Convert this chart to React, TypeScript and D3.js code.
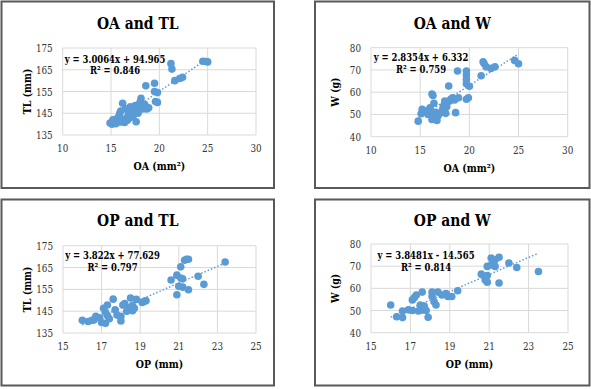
import React from 'react';
import * as d3 from 'd3';

// OA (mm²) vs TL (mm)
const oaTL: [number, number][] = [
  [14.9, 140.5], [15.1, 140], [15.3, 141], [15.5, 140.2], [15.2, 142], [15.6, 142.5],
  [15.8, 143.5], [16.0, 141], [16.2, 141.5], [16.4, 140.8], [16.5, 142.5], [16.7, 141.8],
  [16.0, 146], [15.9, 145], [16.2, 149.6], [16.5, 147], [16.8, 144], [17.0, 143],
  [17.2, 145], [17.4, 147], [17.5, 148.5], [17.6, 146], [17.6, 141.1], [17.8, 145],
  [17.9, 149], [18.0, 150], [18.1, 148], [18.1, 151.9], [18.3, 147], [18.5, 149],
  [18.7, 147], [18.9, 147.5], [17.3, 144], [16.8, 146], [17.0, 148], [18.6, 157.6],
  [19.5, 158.8], [19.5, 155], [19.8, 154.5], [19.6, 150.4], [19.8, 150], [21.2, 167.8],
  [21.3, 165.3], [21.6, 160], [22.1, 161], [22.4, 161.5], [24.5, 168.9], [24.8, 168.8],
  [25.0, 168.6],
];

// OA (mm²) vs W (g)
const oaW: [number, number][] = [
  [14.8, 47], [15.2, 52.3], [15.1, 50.3], [15.5, 51.5], [15.8, 50], [16.0, 53],
  [16.2, 50.8], [16.2, 59.2], [16.3, 58.5], [16.4, 55], [16.2, 47.7], [16.7, 47.3],
  [16.8, 49.3], [16.6, 51], [17.0, 50.5], [17.3, 52.7], [17.5, 56], [17.4, 54],
  [17.6, 50.5], [17.7, 53.5], [18.0, 56], [18.1, 56.8], [17.9, 62.8], [18.3, 57.5],
  [18.5, 56.5], [18.8, 69.5], [18.6, 50.8], [18.9, 57.5], [19.7, 69.5], [19.7, 67.7],
  [19.7, 65.8], [19.7, 63.8], [19.7, 56.8], [19.9, 57.5], [20.0, 62.7], [21.2, 67.4],
  [21.4, 73.7], [21.5, 72.9], [21.7, 71.4], [22.2, 70.7], [22.6, 71.4], [24.6, 74.3],
  [25.0, 72.8],
];

// OP (mm) vs TL (mm)
const opTL: [number, number][] = [
  [16.0, 140.8], [16.3, 140.3], [16.5, 140.8], [16.6, 141], [16.7, 142.6], [16.9, 142],
  [17.0, 139.8], [17.2, 139.5], [17.1, 146.3], [17.3, 147.8], [17.2, 144.5], [17.3, 143],
  [17.4, 141.5], [17.6, 150.5], [17.7, 145.6], [17.8, 143.2], [18.0, 142.6], [18.0, 140.5],
  [18.1, 147.8], [18.2, 148.5], [18.3, 145], [18.4, 146.3], [18.5, 151], [18.6, 147.6],
  [18.7, 146.3], [18.6, 145.2], [18.8, 150.4], [19.1, 149], [19.2, 149.4], [19.3, 149.8],
  [20.6, 159.3], [20.9, 161.5], [21.1, 160.2], [21.2, 159.8], [20.9, 152.5], [21.0, 156.4],
  [21.2, 156], [21.1, 165.3], [21.3, 168.3], [21.4, 168.8], [21.5, 168.8], [21.5, 154.8],
  [22.0, 161], [22.3, 157.3], [23.4, 167.5],
];

// OP (mm) vs W (g)
const opW: [number, number][] = [
  [16.0, 52.5], [16.3, 47.2], [16.6, 46.8], [16.6, 49.8], [16.9, 50.3], [17.1, 54.8],
  [17.2, 55.8], [17.3, 57], [17.6, 58.3], [17.1, 50], [17.4, 49.8], [17.6, 50.2],
  [17.5, 52.5], [17.7, 52], [17.8, 50], [17.9, 47], [18.1, 58.3], [18.1, 56.4],
  [18.2, 54], [18.3, 52.5], [18.4, 58.3], [18.6, 57], [18.8, 57.7], [18.9, 56.3],
  [19.1, 56.3], [19.4, 58.9], [20.6, 66.4], [20.9, 65.8], [20.8, 63.8], [20.9, 62.8],
  [20.9, 69.9], [21.1, 70.6], [21.1, 73.7], [21.3, 72.9], [21.5, 74], [21.3, 69.9],
  [21.5, 62.4], [22.0, 71.4], [22.4, 69.4], [23.5, 67.6],
];

const oaTicks = [10, 15, 20, 25, 30];
const opTicks = [15, 17, 19, 21, 23, 25];
const tlTicks = [135, 145, 155, 165, 175];
const wTicks = [40, 50, 60, 70, 80];

const BLUE = '#5B9BD5';
// DejaVu Serif is wider than Times, so text gets squeezed horizontally
const SERIF = 'DejaVu Serif, serif';

// text squeezed along x around its anchor point
const SText: React.FC<{
  x: number; y: number; sx: number; size: number; bold?: boolean;
  anchor?: 'start' | 'middle' | 'end'; fill?: string; rotate?: number; children: React.ReactNode;
}> = ({ x, y, sx, size, bold, anchor = 'middle', fill = '#000', rotate = 0, children }) => (
  <text
    transform={`translate(${x},${y}) rotate(${rotate}) scale(${sx},1)`}
    textAnchor={anchor}
    fontSize={size}
    fontWeight={bold ? 'bold' : 'normal'}
    fill={fill}
  >
    {children}
  </text>
);

interface PanelProps {
  title: string;
  xLabel: string;
  yLabel: string;
  data: [number, number][];
  xTicks: number[];
  yTicks: number[];
  slope: number;
  intercept: number;
  eq: string;
  r2: string;
  box: { x0: number; y0: number; x1: number; y1: number };
  plot: { left: number; right: number; top: number; bottom: number };
  eqX: number;
  eqY: number;
  titleY: number;
}

const Panel: React.FC<PanelProps> = ({
  title, xLabel, yLabel, data, xTicks, yTicks, slope, intercept, eq, r2, box, plot, eqX, eqY, titleY
}) => {
  const x = d3.scaleLinear()
    .domain([xTicks[0], xTicks[xTicks.length - 1]])
    .range([plot.left, plot.right]);
  const y = d3.scaleLinear()
    .domain([yTicks[0], yTicks[yTicks.length - 1]])
    .range([plot.bottom, plot.top]);

  // trendline over the data range
  const [xmin, xmax] = d3.extent(data, d => d[0]) as [number, number];
  const trend = d3.line<number>()
    .x(v => x(v))
    .y(v => y(slope * v + intercept));

  const cx = (box.x0 + box.x1) / 2;
  const px = (plot.left + plot.right) / 2;
  const py = (plot.top + plot.bottom) / 2;

  return (
    <g style={{ fontFamily: SERIF }}>
      <rect x={box.x0} y={box.y0} width={box.x1 - box.x0} height={box.y1 - box.y0}
        fill="#fff" stroke="#595959" strokeWidth={2} />
      <SText x={cx} y={titleY} sx={0.82} size={17} bold>{title}</SText>

      {/* grid */}
      {xTicks.map(t => (
        <line key={'gx' + t} x1={x(t)} x2={x(t)} y1={plot.top} y2={plot.bottom} stroke="#d9d9d9" strokeWidth={1} />
      ))}
      {yTicks.map(t => (
        <line key={'gy' + t} x1={plot.left} x2={plot.right} y1={y(t)} y2={y(t)} stroke="#d9d9d9" strokeWidth={1} />
      ))}

      {/* tick labels */}
      {xTicks.map(t => (
        <SText key={'tx' + t} x={x(t)} y={plot.bottom + 17} sx={0.8} size={11} fill="#333">{t}</SText>
      ))}
      {yTicks.map(t => (
        <SText key={'ty' + t} x={plot.left - 10} y={y(t) + 4} sx={0.8} size={11} anchor="end" fill="#333">{t}</SText>
      ))}

      {/* axis titles */}
      <SText x={px} y={plot.bottom + 35} sx={0.82} size={11.5} bold>{xLabel}</SText>
      <SText x={plot.left - 32} y={py} sx={0.82} size={11.5} bold rotate={-90}>{yLabel}</SText>

      {/* points */}
      {data.map((d, i) => (
        <circle key={i} cx={x(d[0])} cy={y(d[1])} r={3.8} fill={BLUE} />
      ))}

      <path d={trend([xmin, xmax]) || ''} fill="none" stroke={BLUE} strokeWidth={1.5} strokeDasharray="1.5,2" />

      {/* regression label */}
      <SText x={eqX} y={eqY} sx={0.77} size={11} bold>{eq}</SText>
      <SText x={eqX} y={eqY + 11.5} sx={0.77} size={11} bold>{r2}</SText>
    </g>
  );
};

export default function App() {
  return (
    <svg width={591} height={389} style={{ position: 'fixed', left: 0, top: 0, background: '#fff' }}>
      <rect width={591} height={389} fill="#fff" />
      <Panel
        title="OA and TL" xLabel="OA (mm²)" yLabel="TL (mm)" data={oaTL}
        xTicks={oaTicks} yTicks={tlTicks} slope={3.0064} intercept={94.965}
        eq="y = 3.0064x + 94.965" r2="R² = 0.846"
        box={{ x0: 1.5, y0: 1.5, x1: 274, y1: 188 }}
        plot={{ left: 62.7, right: 256, top: 48, bottom: 135 }}
        eqX={115} eqY={62.5} titleY={29}
      />
      <Panel
        title="OA and W" xLabel="OA (mm²)" yLabel="W (g)" data={oaW}
        xTicks={oaTicks} yTicks={wTicks} slope={2.8354} intercept={6.332}
        eq="y = 2.8354x + 6.332" r2="R² = 0.759"
        box={{ x0: 315, y0: 1.5, x1: 589.5, y1: 188 }}
        plot={{ left: 371, right: 567.7, top: 47.7, bottom: 136.7 }}
        eqX={421} eqY={61} titleY={29}
      />
      <Panel
        title="OP and TL" xLabel="OP (mm)" yLabel="TL (mm)" data={opTL}
        xTicks={opTicks} yTicks={tlTicks} slope={3.822} intercept={77.629}
        eq="y = 3.822x + 77.629" r2="R² = 0.797"
        box={{ x0: 1.5, y0: 199.5, x1: 274, y1: 385.5 }}
        plot={{ left: 63, right: 256, top: 245.7, bottom: 333 }}
        eqX={112.5} eqY={259} titleY={226}
      />
      <Panel
        title="OP and W" xLabel="OP (mm)" yLabel="W (g)" data={opW}
        xTicks={opTicks} yTicks={wTicks} slope={3.8481} intercept={-14.565}
        eq="y = 3.8481x - 14.565" r2="R² = 0.814"
        box={{ x0: 315, y0: 199.5, x1: 589.5, y1: 385.5 }}
        plot={{ left: 371, right: 568, top: 244, bottom: 332.7 }}
        eqX={426} eqY={259.3} titleY={226}
      />
    </svg>
  );
}
